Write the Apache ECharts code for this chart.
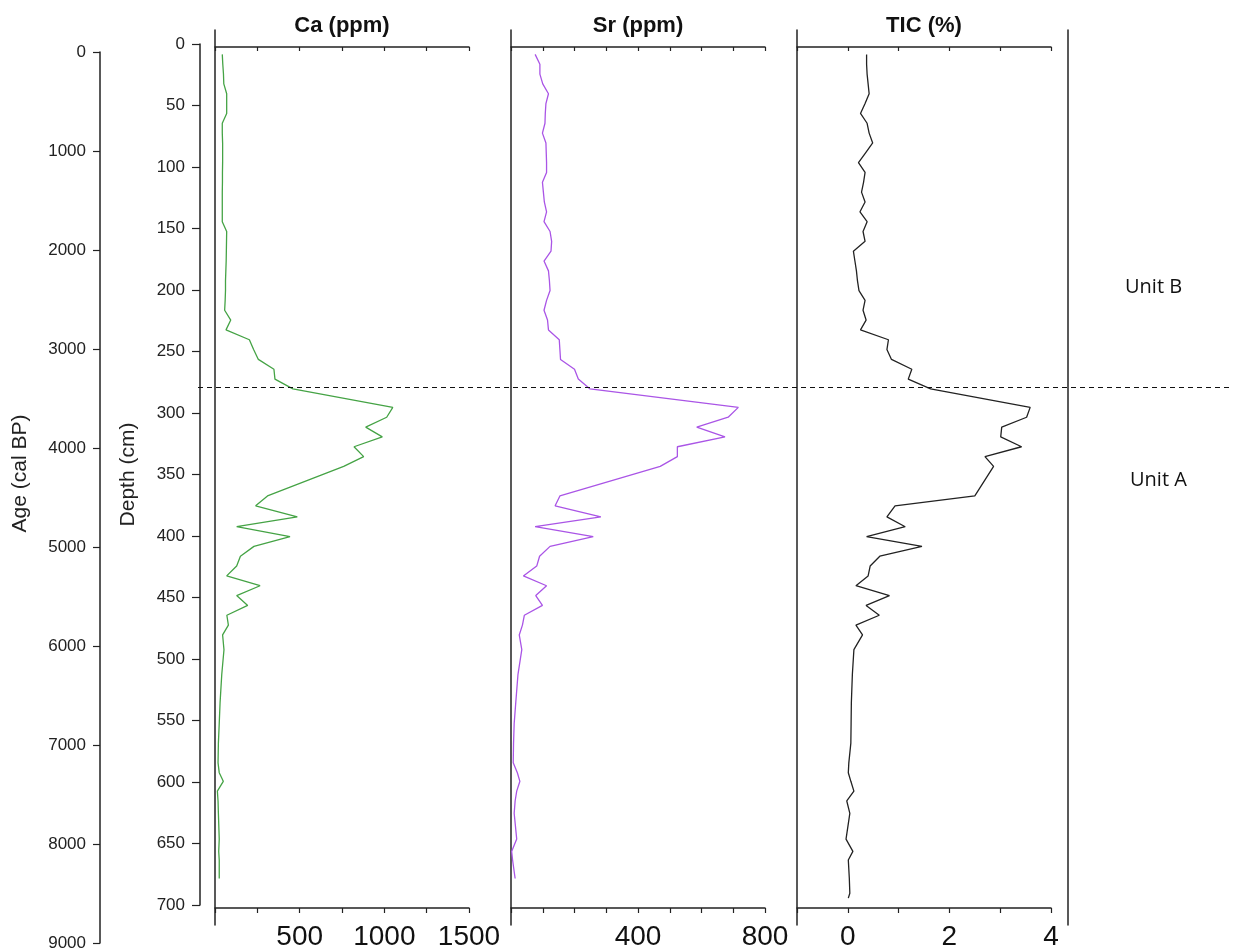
<!DOCTYPE html>
<html>
<head>
<meta charset="utf-8">
<script src="https://cdn.jsdelivr.net/npm/echarts@6/dist/echarts.min.js"></script>
<style>
html,body{margin:0;padding:0;background:#fff;}
#chart{width:1233px;height:952px;}
</style>
</head>
<body>
<div id="chart"></div>
<script>
// ---- data ----
const depths = [6,14,22,30,38,46,54,62,70,78,86,94,102,110,118,126,134,142,150,158,166,174,182,190,198,206,214,222,230,238,246,254,262,270,278,293,301,309,317,325,333,341,365,373,382,390,398,406,414,422,430,438,446,454,462,470,478,490,510,533,550,566,582,590,597,605,613,623,644,654,661,676,688,692];
const ca = [43,46,50,52,69,69,69,43,43,45,45,45,44,44,43,43,43,43,69,68,67,66,64,62,62,60,57,93,65,203,228,256,348,354,460,1050,1014,890,988,821,878,760,310,240,486,128,443,230,150,128,69,266,128,193,70,79,45,53,40,30,25,20,18,25,49,14,18,20,25,22,25,25,null,null];
const sr = [76,91,91,100,118,110,108,107,99,110,111,112,112,99,102,105,112,104,123,128,126,104,118,121,123,112,104,115,118,152,154,156,200,212,249,716,684,585,674,524,524,470,154,139,283,76,259,123,90,81,39,112,78,99,42,36,26,34,22,15,10,8,7,20,28,18,13,10,18,2,5,13,null,null];
const tic = [0.37,0.37,0.38,0.40,0.42,0.34,0.25,0.38,0.42,0.49,0.35,0.21,0.34,0.31,0.27,0.34,0.24,0.38,0.30,0.34,0.11,0.14,0.17,0.19,0.22,0.34,0.30,0.36,0.25,0.80,0.77,0.86,1.26,1.19,1.63,3.59,3.52,3.03,3.01,3.42,2.70,2.87,2.50,0.93,0.77,1.13,0.37,1.46,0.63,0.44,0.40,0.16,0.82,0.36,0.62,0.16,0.29,0.12,0.09,0.07,0.065,0.06,0.02,0.01,0.06,0.12,-0.02,0.04,-0.035,0.10,0.01,0.03,0.04,0.01];
const unitBoundary = 276.5;           // depth (cm) of Unit A / Unit B boundary
const ageTicks = {min:0, max:9000, interval:1000};
const depthTicks = {min:0, max:700, interval:50};
const caTicks = {min:0, max:1500, interval:250, labels:[500,1000,1500]};
const srTicks = {min:0, max:800, interval:100, labels:[400,800]};
const ticTicks = {min:-1, max:4, interval:1, labels:[0,2,4]};
const titles = ['Ca (ppm)','Sr (ppm)','TIC (%)'];
const unitLabels = ['Unit B','Unit A'];

// ---- chart ----
const AX = '#222';
const FONT = 'Liberation Sans, Arial, sans-serif';
const pairs = (vals) => depths.map((d,i)=>[vals[i], d]).filter(p=>p[0]!==null);

const panelTop = 47, panelH = 861;
const grids = [
  {left:100, top:52, width:1, height:891},      // 0 age
  {left:200, top:44, width:1, height:861},      // 1 depth
  {left:215, top:panelTop, width:254, height:panelH}, // 2 Ca
  {left:511, top:panelTop, width:254, height:panelH}, // 3 Sr
  {left:797, top:panelTop, width:254, height:panelH}, // 4 TIC
  {left:215, top:30, width:1, height:895},      // 5 frame
  {left:511, top:30, width:1, height:895},      // 6 frame
  {left:797, top:30, width:1, height:895},      // 7 frame
  {left:1068, top:30, width:1, height:895},     // 8 frame
  {left:198, top:panelTop, width:1032, height:panelH} // 9 dashed boundary
];

const hiddenX = (g) => ({gridIndex:g, type:'value', show:false, min:0, max:1});
function topAxis(g, t, name){
  return {gridIndex:g, type:'value', position:'top', min:t.min, max:t.max, interval:t.interval,
    name:name, nameLocation:'middle', nameGap:10,
    nameTextStyle:{fontFamily:FONT, fontWeight:'bold', fontSize:22, color:'#111'},
    axisLine:{show:true, lineStyle:{color:AX, width:1.5}},
    axisTick:{show:true, inside:true, length:4, lineStyle:{color:AX, width:1.2}},
    axisLabel:{show:false}, splitLine:{show:false}};
}
function bottomAxis(g, t){
  return {gridIndex:g, type:'value', position:'bottom', min:t.min, max:t.max, interval:t.interval,
    axisLine:{show:true, onZero:false, lineStyle:{color:AX, width:1.5}},
    axisTick:{show:true, inside:false, length:5, lineStyle:{color:AX, width:1.2}},
    axisLabel:{show:true, margin:15, fontFamily:FONT, fontSize:28, color:'#111',
      formatter:(v)=> t.labels.indexOf(v)>=0 ? String(v) : ''},
    splitLine:{show:false}};
}
const hiddenDepthY = (g) => ({gridIndex:g, type:'value', inverse:true, min:depthTicks.min, max:depthTicks.max, show:false});
const frameY = (g) => ({gridIndex:g, type:'value', min:0, max:1, axisLine:{show:true, lineStyle:{color:AX, width:1.5}},
  axisTick:{show:false}, axisLabel:{show:false}, splitLine:{show:false}});

const option = {
  animation:false,
  backgroundColor:'#fff',
  grid: grids,
  xAxis: [
    hiddenX(0), hiddenX(1),
    topAxis(2, caTicks, titles[0]), bottomAxis(2, caTicks),
    topAxis(3, srTicks, titles[1]), bottomAxis(3, srTicks),
    topAxis(4, ticTicks, titles[2]), bottomAxis(4, ticTicks),
    hiddenX(5), hiddenX(6), hiddenX(7), hiddenX(8), hiddenX(9)
  ],
  yAxis: [
    {gridIndex:0, type:'value', inverse:true, min:ageTicks.min, max:ageTicks.max, interval:ageTicks.interval,
      name:'Age (cal BP)', nameLocation:'middle', nameRotate:90, nameGap:69,
      nameTextStyle:{fontFamily:FONT, fontSize:21, color:'#222', padding:[0,0,0,48]},
      axisLine:{show:true, lineStyle:{color:AX, width:1.5}},
      axisTick:{show:true, length:7, lineStyle:{color:AX, width:1.2}},
      axisLabel:{margin:14, fontFamily:FONT, fontSize:17, color:'#222', formatter:(v)=>String(v)},
      splitLine:{show:false}},
    {gridIndex:1, type:'value', inverse:true, min:depthTicks.min, max:depthTicks.max, interval:depthTicks.interval,
      name:'Depth (cm)', nameLocation:'middle', nameRotate:90, nameGap:61,
      nameTextStyle:{fontFamily:FONT, fontSize:21, color:'#222'},
      axisLine:{show:true, lineStyle:{color:AX, width:1.5}},
      axisTick:{show:true, length:8, lineStyle:{color:AX, width:1.2}},
      axisLabel:{margin:15, fontFamily:FONT, fontSize:17, color:'#222', formatter:(v)=>String(v)},
      splitLine:{show:false}},
    hiddenDepthY(2), hiddenDepthY(3), hiddenDepthY(4),
    frameY(5), frameY(6), frameY(7), frameY(8),
    hiddenDepthY(9)
  ],
  series: [
    {type:'line', name:'Ca', xAxisIndex:3, yAxisIndex:2, data:pairs(ca), symbol:'none',
      lineStyle:{color:'#45a345', width:1.3}},
    {type:'line', name:'Sr', xAxisIndex:5, yAxisIndex:3, data:pairs(sr), symbol:'none',
      lineStyle:{color:'#aa55e6', width:1.3}},
    {type:'line', name:'TIC', xAxisIndex:7, yAxisIndex:4, data:pairs(tic), symbol:'none',
      lineStyle:{color:'#222', width:1.3}},
    {type:'line', name:'boundary', xAxisIndex:12, yAxisIndex:9, data:[], symbol:'none', silent:true,
      markLine:{silent:true, symbol:['none','none'], label:{show:false},
        lineStyle:{color:'#111', type:[5,4], width:1.2},
        data:[{yAxis:unitBoundary}]}}
  ],
  graphic: [
    {type:'text', left:1125, top:277, style:{text:unitLabels[0], font:'20px "Open Sans", sans-serif', fill:'#111'}},
    {type:'text', left:1130, top:470, style:{text:unitLabels[1], font:'20px "Open Sans", sans-serif', fill:'#111'}}
  ]
};

const chart = echarts.init(document.getElementById('chart'), null, {renderer:'canvas'});
chart.setOption(option);
</script>
</body>
</html>
